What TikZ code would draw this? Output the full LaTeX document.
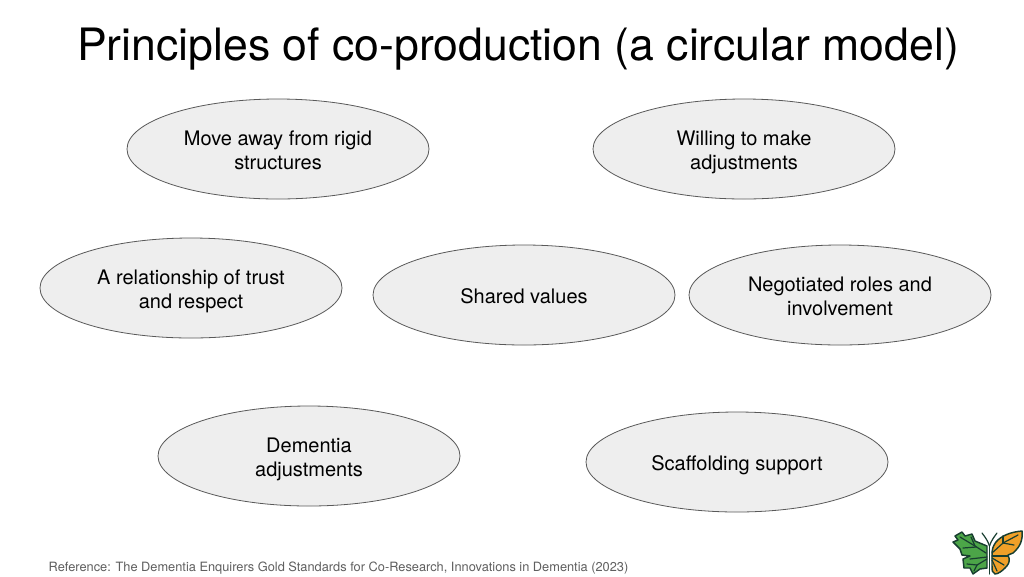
\documentclass[tikz,border=0pt]{standalone}
\usepackage{fontspec}
\setmainfont{TeX Gyre Heros}
\usetikzlibrary{shapes.geometric}
\definecolor{ovalfill}{RGB}{238,238,238}
\definecolor{ovalline}{RGB}{89,89,89}
\definecolor{reftext}{RGB}{95,95,95}
\definecolor{wgreen}{RGB}{76,165,72}
\definecolor{worange}{RGB}{240,160,40}
\definecolor{wdark}{RGB}{24,62,48}
\newcommand{\firstline}{\rule{0pt}{18.3pt}}
\tikzset{
 oval/.style={ellipse,draw=ovalline,fill=ovalfill,line width=0.6pt,minimum width=226.5pt,minimum height=75pt,inner sep=0pt,align=center,font=\fontsize{15}{18}\selectfont,text=black},
 wing/.style={draw=wdark,line width=1.1pt,line join=round},
 vein/.style={draw=wdark,line width=0.9pt,line cap=round},
}
\begin{document}
\begin{tikzpicture}[x=0.75pt,y=-0.75pt]
\useasboundingbox (0,0) rectangle (1024,576);
\fill[white] (0,0) rectangle (1024,576);
\node[anchor=center,inner sep=0pt,font=\fontsize{33.45}{40}\selectfont,text=black] (title) at (518,50) {\strut Principles of co-production (a circular model)};
\node[oval] (a) at (278,149) {\firstline\strut Move away from rigid\\\strut structures};
\node[oval] (b) at (744,149) {\firstline\strut Willing to make\\\strut adjustments};
\node[oval] (c) at (191,288) {\firstline\strut A relationship of trust\\\strut and respect};
\node[oval] (d) at (524,295) {\firstline\strut Shared values};
\node[oval] (e) at (840,295) {\firstline\strut Negotiated roles and\\\strut involvement};
\node[oval] (f) at (309,456) {\firstline\strut Dementia\\\strut adjustments};
\node[oval] (g) at (737,462) {\firstline\strut Scaffolding support};
\node[anchor=center,inner sep=0pt,font=\fontsize{9.6}{11}\selectfont,text=reftext] (ref) at (338.5,569) {\strut Reference: The Dementia Enquirers Gold Standards for Co-Research, Innovations in Dementia (2023)};
% butterfly logo
\path[fill=wgreen,wing] (987,546) -- (975,541) -- (972,534) -- (965,536) -- (962,532) -- (955,536) -- (958,540) -- (953,542) -- (960,549) -- (962,555) -- (970,556) -- (963,559) -- (964,568) -- (970,568) -- (973,574) -- (980,569) -- (987,568) -- cycle;
\path[fill=worange,wing] (992,555) .. controls (992,549) and (993,546) .. (996,542) .. controls (1001,536) and (1010,532) .. (1022,531) .. controls (1023,540) and (1020,547) .. (1013,553) -- (1008,555) -- (1009,558) .. controls (1010,562) and (1008,565) .. (1005,568) .. controls (1002,571) and (998,574) .. (995,574) .. controls (992,573) and (992,570) .. (992,566) -- cycle;
\draw[vein] (989.5,546) -- (989.5,574);
\draw[vein] (982,533) .. controls (985,537) and (988,541) .. (989.5,546);
\draw[vein] (997,533) .. controls (994,537) and (991,541) .. (989.5,546);
\draw[vein] (986,553) -- (975,546) -- (960,537);
\draw[vein] (975,546) -- (971,537);
\draw[vein] (976,547) -- (963,548);
\draw[vein] (987,557) -- (970,559);
\draw[vein] (987,559) -- (977,565) -- (974,571);
\draw[vein] (977,565) -- (967,564);
\draw[vein] (992,553) -- (1003,543) -- (1018,535);
\draw[vein] (1003,543) -- (1003,536);
\draw[vein] (1003,543) -- (1014,545);
\draw[vein] (992,556) -- (1008,556);
\draw[vein] (992,558) -- (1004,565);
\draw[vein] (992,560) -- (997,571);
\end{tikzpicture}
\end{document}
